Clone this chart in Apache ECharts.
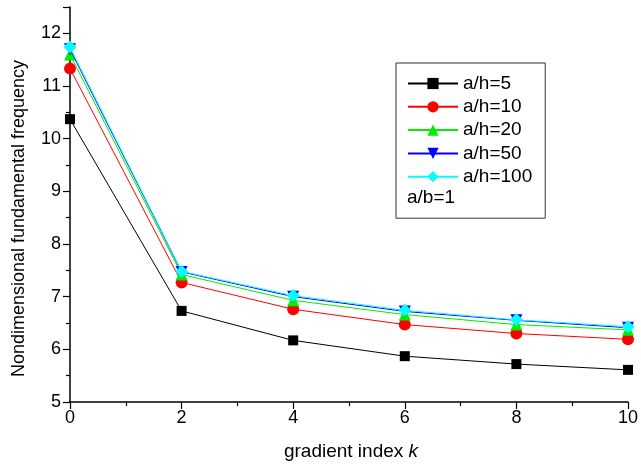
<!DOCTYPE html>
<html>
<head>
<meta charset="utf-8">
<script src="https://cdn.jsdelivr.net/npm/echarts@6/dist/echarts.min.js"></script>
<style>html,body{margin:0;padding:0;background:#fff}#c{width:641px;height:466px}</style>
</head>
<body>
<div id="c"></div>
<script>
var kValues = [0, 2, 4, 6, 8, 10];
var seriesNames = ['a/h=5', 'a/h=10', 'a/h=20', 'a/h=50', 'a/h=100'];
var ah5 = [10.37, 6.73, 6.17, 5.87, 5.72, 5.61];
var ah10 = [11.33, 7.27, 6.76, 6.47, 6.30, 6.19];
var ah20 = [11.60, 7.42, 6.93, 6.66, 6.47, 6.37];
var ah50 = [11.70, 7.47, 7.00, 6.72, 6.55, 6.41];
var ah100 = [11.74, 7.48, 7.02, 6.74, 6.56, 6.43];
var legendNote = 'a/b=1';

var values = [ah5, ah10, ah20, ah50, ah100];
var colors = ['#000000', '#ff0000', '#00ee00', '#0000ff', '#00ffff'];
var symbols = ['rect', 'circle', 'triangle', 'path://M0,0 L10,0 L5,9 Z', 'diamond'];
var sizes = [10, 12, 12, 12, 13];

var font = 'Liberation Sans, Arial, sans-serif';
var chart = echarts.init(document.getElementById('c'), null, {renderer: 'canvas'});
var series = values.map(function (v, i) {
  return {
    name: seriesNames[i],
    type: 'line',
    data: kValues.map(function (k, j) { return [k, v[j]]; }),
    symbol: symbols[i],
    symbolSize: sizes[i],
    showAllSymbol: true,
    lineStyle: {color: colors[i], width: 1},
    itemStyle: {color: colors[i]},
    emphasis: {disabled: true},
    z: 2 + i
  };
});

chart.setOption({
  animation: false,
  backgroundColor: '#fff',
  grid: {left: 70, right: 11, top: 7, bottom: 63, containLabel: false},
  xAxis: {
    type: 'value', min: 0, max: 10, interval: 2,
    name: '{a|gradient index }{b|k}',
    nameLocation: 'middle', nameGap: 40,
    nameTextStyle: {padding: [0, 0, 0, 4], rich: {
      a: {fontFamily: font, fontSize: 19, color: '#000'},
      b: {fontFamily: font, fontSize: 19, fontStyle: 'italic', color: '#000'}
    }},
    axisLine: {lineStyle: {color: '#000', width: 1.5}},
    axisTick: {inside: false, length: 7, lineStyle: {color: '#000', width: 1.2}},
    minorTick: {show: true, splitNumber: 2, length: 4, lineStyle: {color: '#000', width: 1.2}},
    axisLabel: {fontFamily: font, fontSize: 18, color: '#000', margin: 7},
    splitLine: {show: false}
  },
  yAxis: {
    type: 'value', min: 5, max: 12.5, interval: 1,
    name: 'Nondimensional fundamental frequency',
    nameLocation: 'middle', nameGap: 42, nameRotate: 90,
    nameTextStyle: {fontFamily: font, fontSize: 18, color: '#000', padding: [0, 28, 0, 0]},
    axisLine: {lineStyle: {color: '#000', width: 1.5}},
    axisTick: {inside: false, length: 7, lineStyle: {color: '#000', width: 1.2}},
    minorTick: {show: true, splitNumber: 2, length: 4, lineStyle: {color: '#000', width: 1.2}},
    axisLabel: {fontFamily: font, fontSize: 18, color: '#000', margin: 9,
      formatter: function (v) { return Number.isInteger(v) ? String(v) : ''; }},
    splitLine: {show: false}
  },
  legend: {
    orient: 'vertical',
    left: 396, top: 63,
    padding: [11, 13, 32, 11],
    itemWidth: 50, itemHeight: 14, itemGap: 4.3,
    borderColor: '#333', borderWidth: 1,
    backgroundColor: '#fff',
    textStyle: {fontFamily: font, fontSize: 19, color: '#000'},
    data: seriesNames
  },
  graphic: [{
    type: 'text', left: 407, top: 188, z: 100,
    style: {text: legendNote, font: '19px ' + font, fill: '#000'}
  }],
  series: series
});
</script>
</body>
</html>
